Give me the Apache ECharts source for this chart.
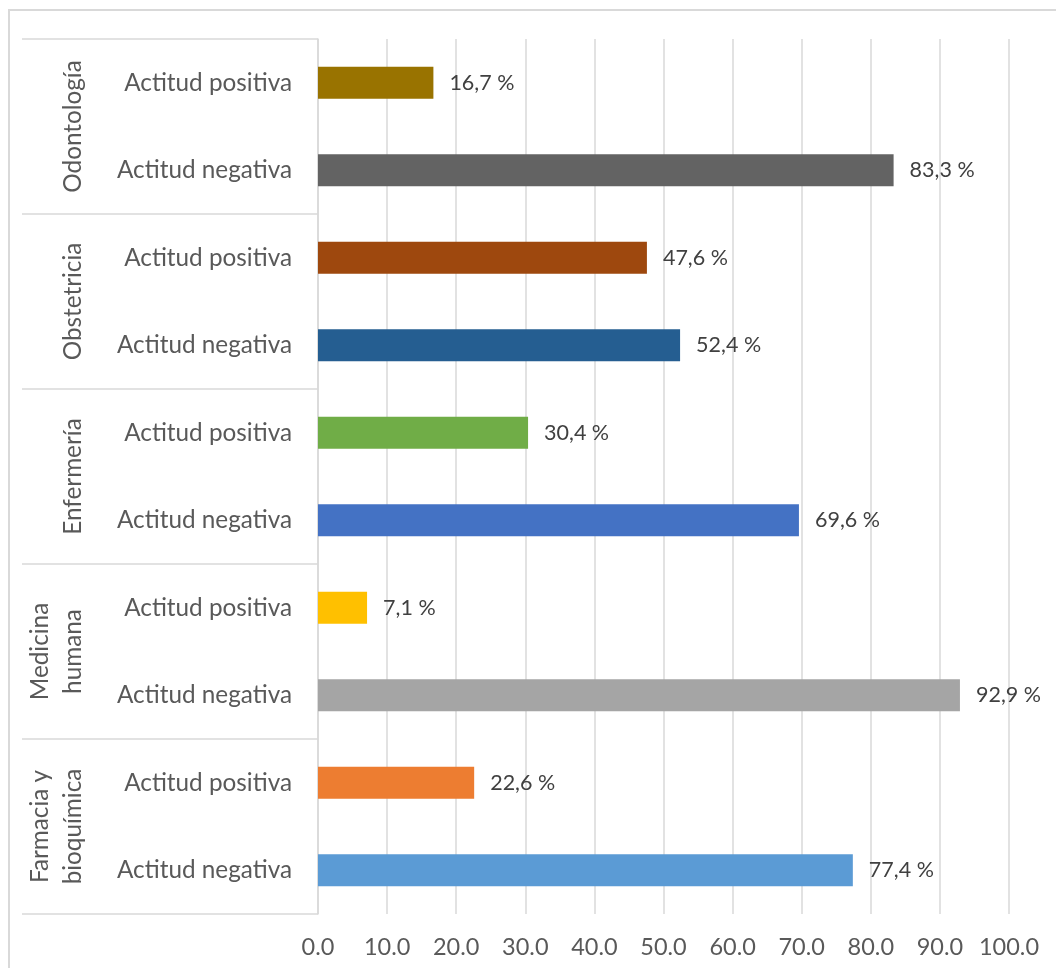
<!DOCTYPE html>
<html>
<head>
<meta charset="utf-8">
<script src="https://cdn.jsdelivr.net/npm/echarts@6/dist/echarts.min.js"></script>
<style>
  html, body { margin: 0; padding: 0; background: #ffffff; }
  #wrap { position: relative; width: 1056px; height: 968px; overflow: hidden; }
  #frame { position: absolute; left: 8px; top: 9px; width: 1100px; height: 1100px; border: 2px solid #d9d9d9; box-sizing: border-box; }
  #chart { position: absolute; left: 0; top: 0; width: 1056px; height: 968px; }
</style>
</head>
<body>
<div id="wrap">
  <div id="frame"></div>
  <div id="chart"></div>
</div>
<script>
// Categories listed bottom-to-top (ECharts category axis order)
const subCategories = [
  'Actitud negativa', 'Actitud positiva',
  'Actitud negativa', 'Actitud positiva',
  'Actitud negativa', 'Actitud positiva',
  'Actitud negativa', 'Actitud positiva',
  'Actitud negativa', 'Actitud positiva'
];
const groups = ['Farmacia y\nbioquímica', 'Medicina\nhumana', 'Enfermería', 'Obstetricia', 'Odontología'];
const values = [77.4, 22.6, 92.9, 7.1, 69.6, 30.4, 52.4, 47.6, 83.3, 16.7];
const barColors = ['#5b9bd5', '#ed7d31', '#a5a5a5', '#ffc000', '#4472c4', '#70ad47', '#255e91', '#9e480e', '#636363', '#997300'];
const xMin = 0, xMax = 100, xStep = 10;

const FONT = 'Lato';
const chart = echarts.init(document.getElementById('chart'), null, { renderer: 'canvas' });
chart.setOption({
  animation: false,
  backgroundColor: 'transparent',
  grid: { left: 318, right: 47, top: 39, bottom: 54, containLabel: false },
  xAxis: {
    type: 'value', min: xMin, max: xMax, interval: xStep,
    axisLine: { show: false },
    axisTick: { show: false },
    axisLabel: {
      color: '#595959', fontFamily: FONT, fontSize: 23.5, margin: 21,
      formatter: v => v.toFixed(1)
    },
    splitLine: { show: true, lineStyle: { color: '#d9d9d9', width: 1.5 } }
  },
  yAxis: [
    {
      type: 'category', data: subCategories, position: 'left',
      axisLine: { show: true, lineStyle: { color: '#d9d9d9', width: 1.5 } },
      axisTick: { show: false },
      axisLabel: { color: '#595959', fontFamily: FONT, fontSize: 24.3, margin: 26 },
      splitLine: { show: false }
    },
    {
      type: 'category', data: groups, position: 'left', offset: 0,
      axisLine: { show: false },
      axisTick: { show: true, length: 296, lineStyle: { color: '#d9d9d9', width: 1.5 } },
      axisLabel: {
        color: '#595959', fontFamily: FONT, fontSize: 24.3, rotate: 90, margin: 228,
        lineHeight: 33, align: 'center'
      },
      splitLine: { show: false }
    }
  ],
  series: [{
    type: 'bar',
    yAxisIndex: 0,
    barWidth: 32,
    data: values.map((v, i) => ({ value: v, itemStyle: { color: barColors[i] } })),
    label: {
      show: true, position: 'right', distance: 16,
      color: '#404040', fontFamily: FONT, fontSize: 21.5,
      formatter: p => p.value.toFixed(1).replace('.', ',') + ' %'
    }
  }]
});
</script>
</body>
</html>
